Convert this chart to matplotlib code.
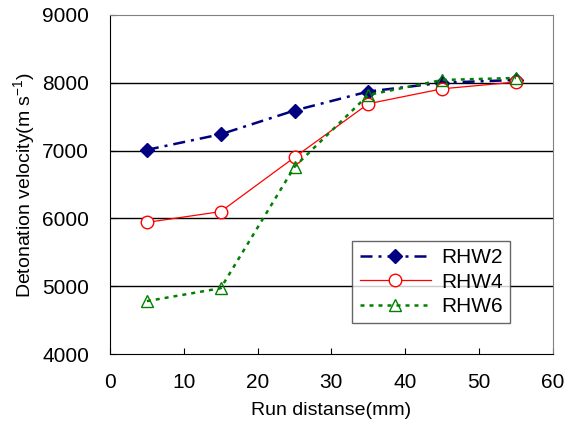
import matplotlib
matplotlib.use("Agg")
import matplotlib.pyplot as plt

plt.rcParams['font.family'] = ['Liberation Sans', 'DejaVu Sans']
plt.rcParams['mathtext.fontset'] = 'custom'
plt.rcParams['mathtext.rm'] = 'Liberation Sans'

run_distance = [5, 15, 25, 35, 45, 55]
rhw2 = [7010, 7240, 7590, 7870, 8000, 8040]
rhw4 = [5940, 6100, 6900, 7690, 7910, 8010]
rhw6 = [4780, 4970, 6760, 7820, 8040, 8070]

fig = plt.figure(figsize=(5.67, 4.25), dpi=100)
ax = fig.add_axes([0.194, 0.167, 0.781, 0.798])

for yv in [5000, 6000, 7000, 8000]:
    ax.axhline(yv, color='black', lw=1.0, zorder=1)

ax.plot(run_distance, rhw2, color='#000080', lw=1.8, dashes=(4.8, 2.4, 1.2, 2.4),
        marker='D', markersize=7, markerfacecolor='#000080',
        markeredgecolor='#000080', label='RHW2', zorder=3)
ax.plot(run_distance, rhw4, color='red', lw=0.9, marker='o', markersize=9,
        markerfacecolor='white', markeredgecolor='red', label='RHW4', zorder=3)
ax.plot(run_distance, rhw6, color='green', lw=1.8, dashes=(1.6, 2.0),
        marker='^', markersize=8.5, markerfacecolor='none',
        markeredgecolor='green', label='RHW6', zorder=3)

ax.set_xlim(0, 60)
ax.set_ylim(4000, 9000)
ax.set_xticks(range(0, 61, 10))
ax.set_yticks(range(4000, 9001, 1000))
ax.tick_params(direction='in', labelsize=15, length=4, color='black')
ax.tick_params(axis='x', pad=14)
ax.tick_params(axis='y', pad=15)
ax.set_xlabel('Run distanse(mm)', fontsize=14, labelpad=7)
ax.set_ylabel('Detonation velocity(m s$^{-1}$)', fontsize=14, labelpad=3)

for side in ['top', 'right']:
    ax.spines[side].set_color('gray')
for side in ['left', 'bottom']:
    ax.spines[side].set_color('black')

leg = ax.legend(loc='lower right', bbox_to_anchor=(0.903, 0.091), fontsize=15,
                frameon=True, fancybox=False, edgecolor='#404040',
                handlelength=3.4, borderpad=0.35, labelspacing=0.25,
                handletextpad=0.5, borderaxespad=0)
leg.get_frame().set_linewidth(1.0)

fig.savefig('out.png', dpi=100)
